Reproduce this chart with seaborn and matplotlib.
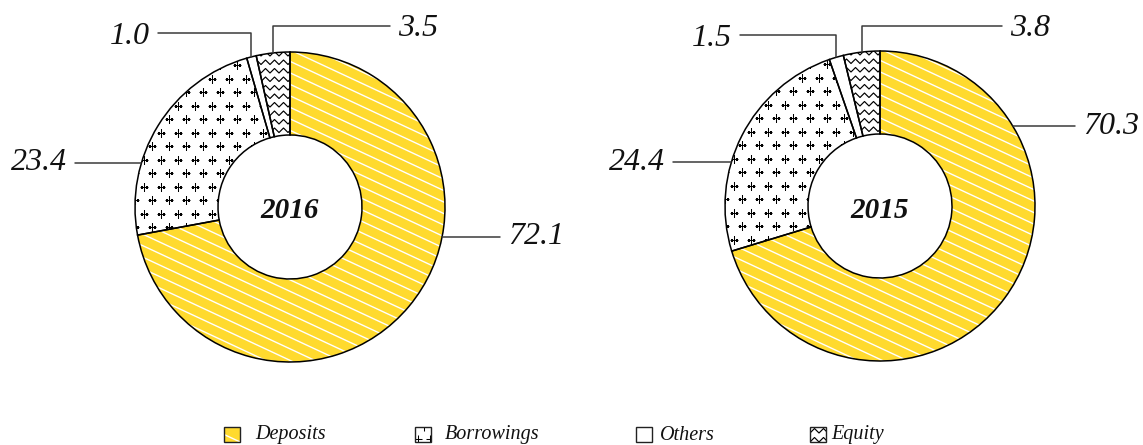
import numpy as np
import matplotlib
matplotlib.use("Agg")
import matplotlib.pyplot as plt
from matplotlib.patches import Wedge, Rectangle
import seaborn as sns

# ---- data -------------------------------------------------------------
categories = ["Deposits", "Borrowings", "Others", "Equity"]
years = ["2016", "2015"]
share_2016 = [72.1, 23.4, 1.0, 3.5]
share_2015 = [70.3, 24.4, 1.5, 3.8]

# ---- style ------------------------------------------------------------
sns.set_theme(style="white")
plt.rcParams["font.family"] = ["Liberation Serif", "DejaVu Serif"]

W, H = 1143, 445
YELLOW = "#FFDA2E"
LINE = "#3a3a3a"
R_OUT = 155
RING = 83


def Y(y):
    """Convert a top-down pixel row to the axes' bottom-up coordinate."""
    return H - y


fig = plt.figure(figsize=(W / 100, H / 100), dpi=100)
ax = fig.add_axes([0, 0, 1, 1])


# ---- fill patterns, clipped to a patch ----------------------------------
def stripes(patch, box, spacing=11.5, angle=25, color="white", lw=1.0):
    x0, y0, x1, y1 = box
    t = np.tan(np.radians(angle))
    xs = np.array([x0, x1])
    span = (y1 - y0) + t * (x1 - x0)
    for c in np.arange(-span, span, spacing):
        ys = y1 + c - t * (xs - x0)
        ln, = ax.plot(xs, ys, color=color, lw=lw, zorder=3, solid_capstyle="butt")
        ln.set_clip_path(patch)


def pluses(patch, box, dx=17, dy=13.5, ms=5.6, offset=(0, 0)):
    x0, y0, x1, y1 = box
    px, py = [], []
    for i, yy in enumerate(np.arange(y0 + offset[1], y1 + dy, dy)):
        shift = (dx / 2) * (i % 2)
        for xx in np.arange(x0 + offset[0] + shift, x1 + dx, dx):
            px.append(xx)
            py.append(yy)
    ln, = ax.plot(px, py, ls="none", marker="+", ms=ms, mew=0.75,
                  color="black", zorder=3)
    ln.set_clip_path(patch)


def zigzags(patch, box, row=8.5, step=4.5, amp=4.5, lw=0.85):
    x0, y0, x1, y1 = box
    xs = np.arange(x0, x1 + step, step)
    wave = amp * (np.arange(len(xs)) % 2)
    for yy in np.arange(y0, y1 + row, row):
        ln, = ax.plot(xs, yy + wave, color="black", lw=lw, zorder=3)
        ln.set_clip_path(patch)


def fill_pattern(name, patch, box, legend=False):
    if name == "Deposits":
        stripes(patch, box, spacing=15 if legend else 11.5)
    elif name == "Borrowings":
        if legend:
            pluses(patch, box, dx=12, dy=12, ms=5.5, offset=(3, 3))
        else:
            pluses(patch, box)
    elif name == "Equity":
        zigzags(patch, box, row=9 if legend else 8.5)


# ---- donuts -----------------------------------------------------------
# label layout: ("h", row, end_x) -> horizontal leader at a pixel row
#               ("v", elbow_row, end_x) -> vertical from mid-angle, then horizontal
layouts = {
    "2016": [("h", 237, 500), ("h", 163, 75), ("v", 33, 158), ("v", 26, 390)],
    "2015": [("h", 126, 1075), ("h", 162, 673), ("v", 35, 740), ("v", 26, 1002)],
}
centers = {"2016": (290, Y(207)), "2015": (880, Y(206))}
colors = [YELLOW, "white", "white", "white"]

for year, values in zip(years, [share_2016, share_2015]):
    cx, cy = centers[year]
    wedges, _ = ax.pie(values, radius=R_OUT, center=(cx, cy), startangle=90,
                       counterclock=False, colors=colors, frame=True,
                       wedgeprops=dict(width=RING, linewidth=0, edgecolor="none"))
    box = (cx - R_OUT, cy - R_OUT, cx + R_OUT, cy + R_OUT)
    for name, w in zip(categories, wedges):
        w.set_zorder(2)
        fill_pattern(name, w, box)
        ax.add_patch(Wedge(w.center, w.r, w.theta1, w.theta2, width=w.width,
                           fill=False, edgecolor="black", lw=1.1, zorder=5))

    # leader lines and value labels
    for val, w, (kind, row, end_x) in zip(values, wedges, layouts[year]):
        if kind == "h":
            dy = Y(row) - cy
            dx = np.sqrt(R_OUT ** 2 - dy ** 2)
            ax_x = cx + dx if end_x > cx else cx - dx
            pts_x, pts_y = [ax_x, end_x], [Y(row), Y(row)]
            ty = Y(row)
        else:
            mid = np.radians((w.theta1 + w.theta2) / 2)
            sx, sy = cx + R_OUT * np.cos(mid), cy + R_OUT * np.sin(mid)
            pts_x, pts_y = [sx, sx, end_x], [sy, Y(row), Y(row)]
            ty = Y(row) - 3
        ax.plot(pts_x, pts_y, color=LINE, lw=1.1, zorder=6)
        right = end_x > cx
        ax.text(end_x + (8 if right else -8), ty, f"{val:.1f}",
                ha="left" if right else "right", va="center",
                fontsize=23, style="italic", color="#111111", zorder=7)

    ax.text(cx, cy - 4, year, ha="center", va="center", fontsize=21,
            style="italic", fontweight="bold", color="#111111", zorder=7)

# ---- legend -----------------------------------------------------------
legend_boxes = [224, 415, 636, 810]
legend_text = [255, 445, 660, 831]
for name, bx, tx, col in zip(categories, legend_boxes, legend_text, colors):
    rect = Rectangle((bx, Y(442)), 16, 15, facecolor=col, edgecolor="none", zorder=2)
    ax.add_patch(rect)
    fill_pattern(name, rect, (bx, Y(442), bx + 16, Y(427)), legend=True)
    ax.add_patch(Rectangle((bx, Y(442)), 16, 15, fill=False,
                           edgecolor="#222222", lw=1.0, zorder=5))
    ax.text(tx, Y(435), name, ha="left", va="center", fontsize=14.5,
            style="italic", color="#111111")

ax.set_xlim(0, W)
ax.set_ylim(0, H)
ax.set_aspect("equal")
ax.axis("off")

fig.savefig("out.png", dpi=100, facecolor="white")
